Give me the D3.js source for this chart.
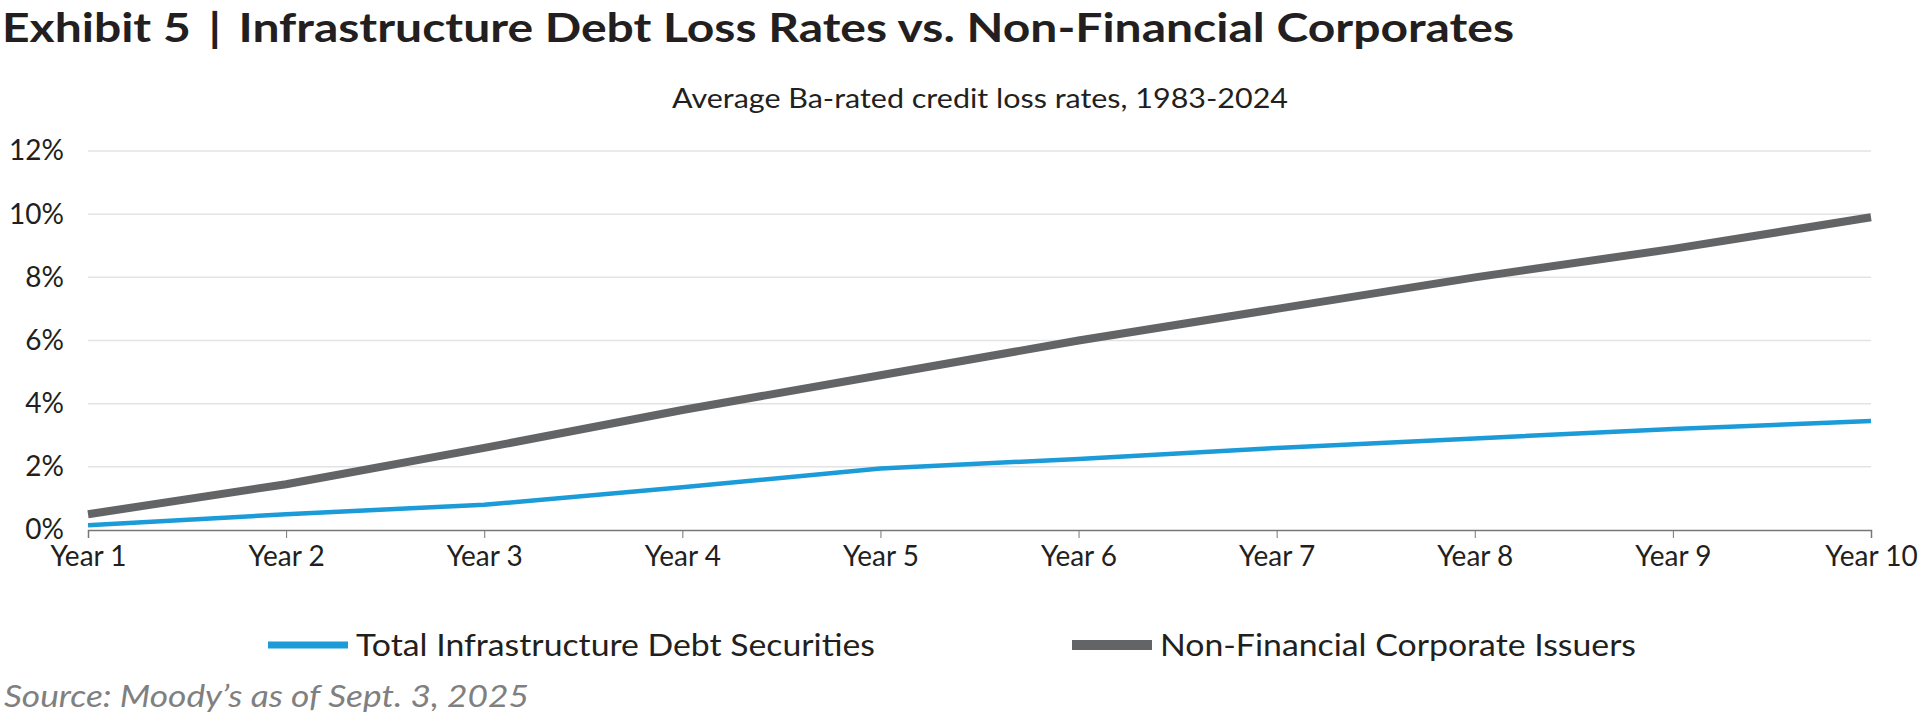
<!DOCTYPE html>
<html><head><meta charset="utf-8">
<script src="https://cdn.jsdelivr.net/npm/d3@7"></script>
<style>body{margin:0;background:#fff;font-family:Lato,"Open Sans",sans-serif;}</style>
</head><body><div id="chart"></div>
<script>
// Chart data
const years = ["Year 1","Year 2","Year 3","Year 4","Year 5","Year 6","Year 7","Year 8","Year 9","Year 10"];
const infraValues = [0.15,0.5,0.8,1.35,1.95,2.25,2.6,2.9,3.2,3.45];
const corpValues = [0.5,1.45,2.6,3.8,4.9,6.0,7.0,8.0,8.9,9.9];
const yTicks = [0,2,4,6,8,10,12];

const W = 1925, H = 714;
const margin = {top: 151, right: 54, bottom: 184, left: 88};
const width = W - margin.left - margin.right;
const height = H - margin.top - margin.bottom;

const svg = d3.select("#chart").append("svg").attr("width", W).attr("height", H);

// Titles
svg.append("text").attr("x", 2).attr("y", 42).attr("font-size", 41).attr("font-weight", 700)
    .attr("fill", "#231f20").attr("textLength", 1512).attr("lengthAdjust", "spacingAndGlyphs")
    .text("Exhibit 5 \u2009|\u2009 Infrastructure Debt Loss Rates vs. Non-Financial Corporates");
svg.append("text").attr("x", 980).attr("y", 108).attr("text-anchor", "middle").attr("font-size", 27)
    .attr("fill", "#231f20").attr("textLength", 616).attr("lengthAdjust", "spacingAndGlyphs")
    .text("Average Ba-rated credit loss rates, 1983-2024");

const g = svg.append("g").attr("transform", "translate(" + margin.left + "," + margin.top + ")");

const x = d3.scalePoint().domain(years).range([0, width]);
const y = d3.scaleLinear().domain([0, 12]).range([height, 0]);

// Gridlines
g.selectAll(".grid").data(yTicks.slice(1)).join("line")
    .attr("x1", 0).attr("x2", width).attr("y1", d => y(d)).attr("y2", d => y(d))
    .attr("stroke", "#e3e3e3").attr("stroke-width", 1.5);

// Axes
const yAxis = g.append("g").call(d3.axisLeft(y).tickValues(yTicks).tickSize(0).tickPadding(24).tickFormat(d => d + "%"));
yAxis.select(".domain").remove();
yAxis.selectAll("text").attr("font-size", 28).attr("font-family", "Lato").attr("fill", "#231f20");

const xAxis = g.append("g").attr("transform", "translate(0," + height + ")")
    .call(d3.axisBottom(x).tickSize(8).tickPadding(8));
xAxis.select(".domain").attr("stroke", "#777").attr("stroke-width", 1.5);
xAxis.selectAll(".tick line").attr("stroke", "#777");
xAxis.selectAll("text").attr("font-size", 28).attr("font-family", "Lato").attr("fill", "#231f20");

// Lines
const line = d3.line().x((d, i) => x(years[i])).y(d => y(d));
g.append("path").datum(corpValues).attr("d", line).attr("fill", "none")
    .attr("stroke", "#636466").attr("stroke-width", 8);
g.append("path").datum(infraValues).attr("d", line).attr("fill", "none")
    .attr("stroke", "#1b9bd7").attr("stroke-width", 4.5);

// Legend
const legend = [
    {name: "Total Infrastructure Debt Securities", color: "#1b9bd7", x: 268, w: 7, len: 519},
    {name: "Non-Financial Corporate Issuers", color: "#636466", x: 1072, w: 10, len: 476}
];
legend.forEach(l => {
    svg.append("line").attr("x1", l.x).attr("x2", l.x + 80).attr("y1", 645).attr("y2", 645)
        .attr("stroke", l.color).attr("stroke-width", l.w);
    svg.append("text").attr("x", l.x + 88).attr("y", 656).attr("font-size", 31)
        .attr("textLength", l.len).attr("lengthAdjust", "spacingAndGlyphs")
        .attr("fill", "#231f20").text(l.name);
});

// Source
svg.append("text").attr("x", 4).attr("y", 707).attr("font-size", 30).attr("font-style", "italic")
    .attr("textLength", 525).attr("lengthAdjust", "spacingAndGlyphs")
    .attr("fill", "#808080").text("Source: Moody\u2019s as of Sept. 3, 2025");
</script></body></html>
